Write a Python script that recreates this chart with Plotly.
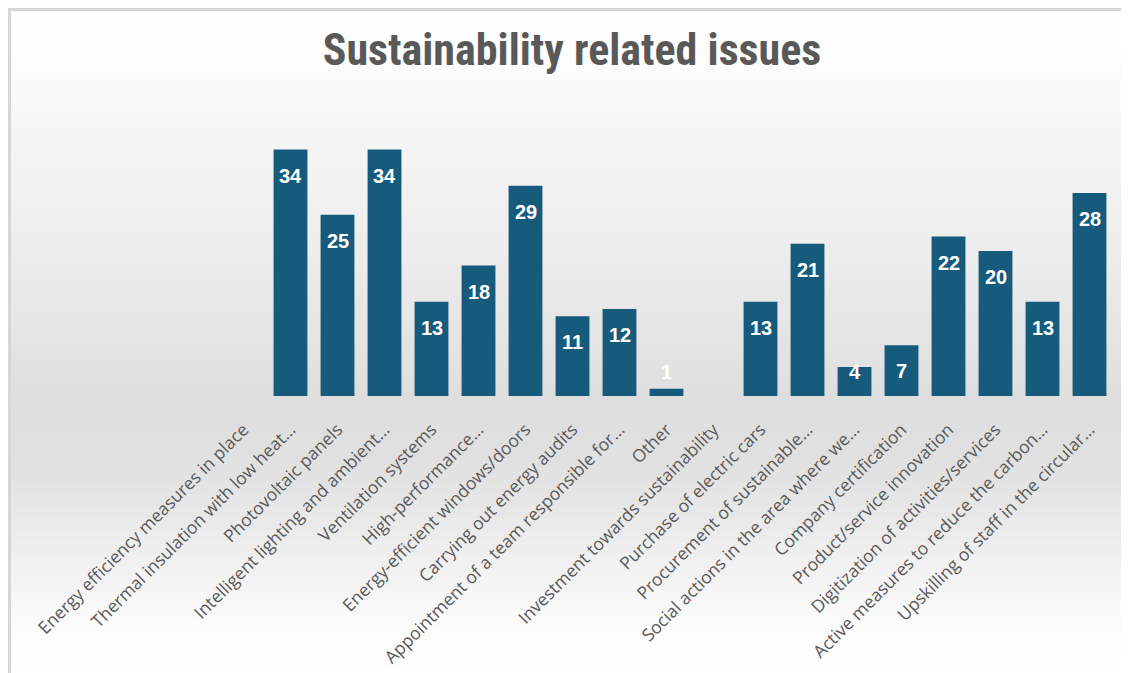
import plotly.graph_objects as go

categories = [
    "Energy efficiency measures in place",
    "Thermal insulation with low heat…",
    "Photovoltaic panels",
    "Intelligent lighting and ambient…",
    "Ventilation systems",
    "High-performance…",
    "Energy-efficient windows/doors",
    "Carrying out energy audits",
    "Appointment of a team responsible for…",
    "Other",
    "Investment towards sustainability",
    "Purchase of electric cars",
    "Procurement of sustainable…",
    "Social actions in the area where we…",
    "Company certification",
    "Product/service innovation",
    "Digitization of activities/services",
    "Active measures to reduce the carbon…",
    "Upskilling of staff in the circular…",
]
values = [None, 34, 25, 34, 13, 18, 29, 11, 12, 1, None, 13, 21, 4, 7, 22, 20, 13, 28]

title_text = "Sustainability related issues"

# the page body adds an 8px offset, so the figure is sized to fit the window
OFF = 8
W, H = 1129 - OFF, 673 - OFF
ML, MR, MT, MB = 212, 16, 98, 277
YMAX = 40
PW = W - ML - MR
PH = H - MT - MB


def px_to_paper_x(px):
    return (px - ML) / PW


def px_to_paper_y(py):
    return (H - MB - py) / PH


fig = go.Figure()
fig.add_trace(go.Bar(
    x=categories,
    y=values,
    marker=dict(color="#165b7c", line=dict(width=0)),
    hoverinfo="x+y",
))

# value labels (white, bold, inside top of bar; small bars pushed up)
px_per_unit = PH / YMAX
for c, v in zip(categories, values):
    if v is None:
        continue
    if v * px_per_unit - 26 >= 24:
        y, shift = v, -26
    else:
        y, shift = 0, 24
    fig.add_annotation(
        x=c, y=y, yshift=shift, text=f"<b>{v}</b>", showarrow=False,
        xanchor="center", yanchor="middle",
        font=dict(family="Liberation Sans, Arial, sans-serif", size=20, color="white"),
    )

# background vertical gradient (decorative), in figure pixels
stops = [(0, 255), (52, 253), (112, 246), (242, 237), (392, 222), (462, 225),
         (552, 240), (622, 252), (665, 255)]


def grey_at(py):
    for (y0, g0), (y1, g1) in zip(stops[:-1], stops[1:]):
        if y0 <= py <= y1:
            t = (py - y0) / (y1 - y0)
            return g0 + (g1 - g0) * t
    return 255


shapes = []
step = 6
py = 0
while py < H:
    g = int(round(grey_at(py + step / 2)))
    shapes.append(dict(
        type="rect", xref="paper", yref="paper", layer="below",
        x0=px_to_paper_x(0), x1=px_to_paper_x(W),
        y0=px_to_paper_y(py), y1=px_to_paper_y(min(py + step + 1, H)),
        fillcolor=f"rgb({g},{g},{g})", line=dict(width=0),
    ))
    py += step

# frame lines (top and left)
shapes.append(dict(type="line", xref="paper", yref="paper", layer="above",
                   x0=px_to_paper_x(0), x1=px_to_paper_x(W),
                   y0=px_to_paper_y(1.5), y1=px_to_paper_y(1.5),
                   line=dict(color="#d6d6d6", width=3)))
shapes.append(dict(type="line", xref="paper", yref="paper", layer="above",
                   x0=px_to_paper_x(1.5), x1=px_to_paper_x(1.5),
                   y0=px_to_paper_y(0), y1=px_to_paper_y(H),
                   line=dict(color="#d6d6d6", width=3)))

fig.update_layout(
    width=W, height=H,
    margin=dict(l=ML, r=MR, t=MT, b=MB, pad=0, autoexpand=False),
    paper_bgcolor="white",
    plot_bgcolor="rgba(0,0,0,0)",
    shapes=shapes,
    showlegend=False,
    bargap=0.28,
    title=dict(
        text=f"<b>{title_text}</b>",
        x=(572 - OFF) / W, xanchor="center", xref="container",
        y=1 - (50 - OFF) / H, yanchor="middle", yref="container",
        font=dict(family="Liberation Sans Narrow, Arial Narrow, Roboto Condensed, Liberation Sans, sans-serif",
                  size=44, color="#595959"),
    ),
    xaxis=dict(
        tickangle=-45, automargin=False,
        tickfont=dict(family="Open Sans, Liberation Sans, sans-serif", size=17.5, color="#595959"),
        showgrid=False, zeroline=False, showline=False, ticks="",
        ticklabelstandoff=19,
    ),
    yaxis=dict(
        range=[0, YMAX], visible=False, showgrid=False, zeroline=False, automargin=False,
    ),
)

fig.write_html("out.html")
